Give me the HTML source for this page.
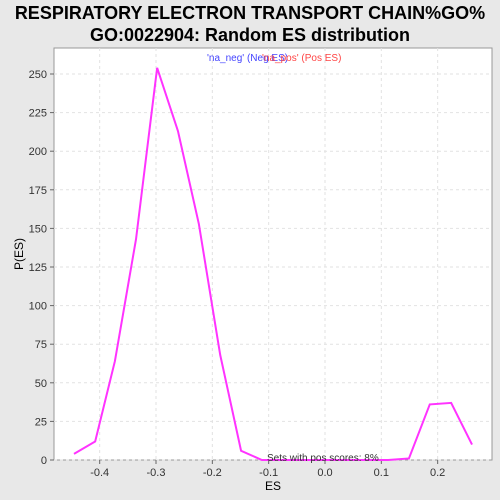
<!DOCTYPE html>
<html><head><meta charset="utf-8"><style>
html,body{margin:0;width:500px;height:500px;overflow:hidden;background:#e8e8e8;font-family:"Liberation Sans","DejaVu Sans",sans-serif;}
svg{display:block;}
</style></head><body>
<svg width="500" height="500" xmlns="http://www.w3.org/2000/svg">
<rect width="500" height="500" fill="#e8e8e8"/>
<text x="250" y="19" text-anchor="middle" font-size="18" font-weight="bold" fill="#000">RESPIRATORY ELECTRON TRANSPORT CHAIN%GO%</text>
<text x="250" y="41" text-anchor="middle" font-size="18" font-weight="bold" fill="#000">GO:0022904: Random ES distribution</text>
<rect x="54" y="48" width="438" height="412" fill="#fff" stroke="#999"/>
<g id="grid"></g>
<g id="axes"></g>
<polyline id="line" fill="none" stroke="#ff33ff" stroke-width="2"/>
<text x="207" y="61" font-size="10" fill="#4444ff">'na_neg' (Neg ES)</text>
<text x="262" y="61" font-size="10" fill="#ff4444">'na_pos' (Pos ES)</text>
<text x="267" y="461" font-size="10" fill="#333">Sets with pos scores: 8%</text>
<text x="273" y="490" text-anchor="middle" font-size="12" fill="#000">ES</text>
<text x="23" y="254" text-anchor="middle" font-size="12" fill="#000" transform="rotate(-90 23 254)">P(ES)</text>
</svg>
<script>
const xs=[-0.4456,-0.408,-0.373,-0.3355,-0.298,-0.261,-0.224,-0.186,-0.149,-0.112,-0.075,-0.037,0,0.037,0.075,0.112,0.149,0.186,0.224,0.261];
const ys=[4,12,64,143,254,213,153,68,6,0,0,0,0,0,0,0,1,36,37,10];
const xTicks=[-0.4,-0.3,-0.2,-0.1,0.0,0.1,0.2];
const xTickLabels=["-0.4","-0.3","-0.2","-0.1","0.0","0.1","0.2"];
const yTicks=[0,25,50,75,100,125,150,175,200,225,250];
const X=v=>325+v*563.3, Y=v=>460-v*1.544;
const ns="http://www.w3.org/2000/svg";
const grid=document.getElementById('grid'),axes=document.getElementById('axes');
function mk(tag,attrs,parent){const e=document.createElementNS(ns,tag);for(const k in attrs)e.setAttribute(k,attrs[k]);parent.appendChild(e);return e;}
xTicks.forEach((t,i)=>{
 const g=mk('line',{x1:X(t),x2:X(t),y1:48,y2:460,stroke:'#e2e2e2','stroke-dasharray':'3,3'},grid);
 
 
 const tk=mk('line',{x1:X(t),x2:X(t),y1:460,y2:464,stroke:'#666'},axes);
 
 
 const tx=mk('text',{x:X(t),y:476,'text-anchor':'middle','font-size':'11',fill:'#333'},axes);
 tx.textContent=xTickLabels[i];
 
 
});
yTicks.forEach(t=>{
 const g=mk('line',{x1:54,x2:492,y1:Y(t),y2:Y(t),stroke:'#e2e2e2','stroke-dasharray':'3,3'},grid);
 
 
 const tk=mk('line',{x1:50,x2:54,y1:Y(t),y2:Y(t),stroke:'#666'},axes);
 
 
 const tx=mk('text',{x:47,y:Y(t)+4,'text-anchor':'end','font-size':'11',fill:'#333'},axes);
 tx.textContent=String(t);
 
 
});
document.getElementById('line').setAttribute('points',xs.map((x,i)=>X(x)+','+Y(ys[i])).join(' '));
</script>
</body></html>
